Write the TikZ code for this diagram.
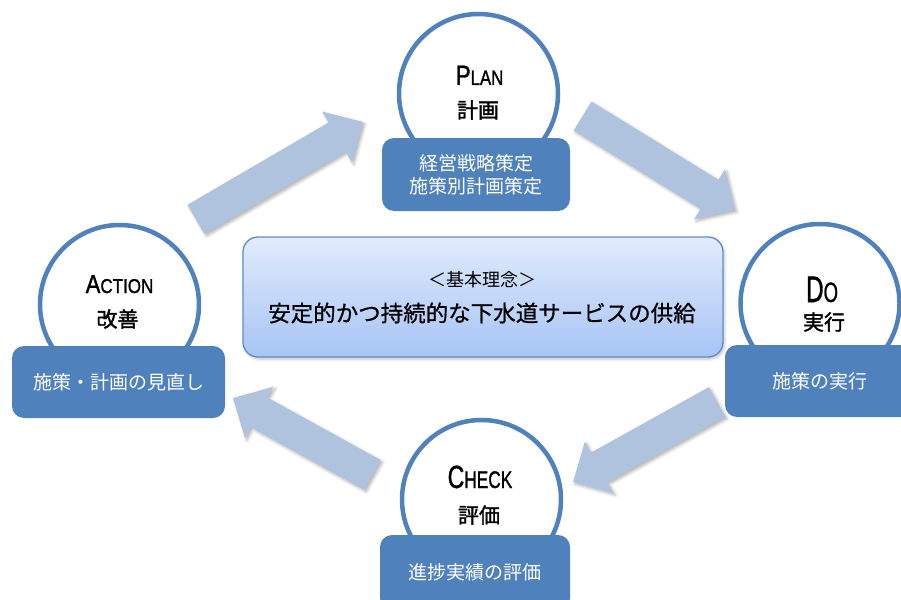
\documentclass[tikz,border=0pt]{standalone}
\usepackage{fontspec}
\usepackage{graphicx}
\setmainfont{Liberation Sans}
\newfontfamily\jp{Noto Sans CJK JP}
\newfontfamily\jpm[FakeBold=1.6]{Noto Sans CJK JP}
\newfontfamily\jpl[FakeBold=0.7]{Noto Sans CJK JP}
\newfontfamily\latb[FakeBold=1.4]{Liberation Sans}
\usetikzlibrary{calc,shadows.blur}

\definecolor{boxblue}{RGB}{79,129,189}
\definecolor{arrowblue}{RGB}{176,195,222}
\definecolor{ctop}{RGB}{226,235,252}
\definecolor{cbot}{RGB}{166,196,245}
\definecolor{cborder}{RGB}{95,140,200}

\newcommand\myblockarrow[2]{%
  \coordinate (hb) at ($(#2)!30pt!(#1)$);
  \fill[blockarr] ($(#1)!17pt!90:(#2)$) -- ($(hb)!17pt!90:(#2)$) -- ($(hb)!29.5pt!90:(#2)$) -- (#2)
     -- ($(hb)!29.5pt!-90:(#2)$) -- ($(hb)!17pt!-90:(#2)$) -- ($(#1)!17pt!-90:(#2)$) -- cycle;}

\begin{document}
\begin{tikzpicture}[x=1pt,y=-1pt,
  blockarr/.style={fill=arrowblue, blur shadow={shadow xshift=2pt, shadow yshift=-2pt, shadow opacity=30, shadow blur radius=3pt}},
  ring/.style={circle, draw=boxblue, line width=4.5pt, fill=white, minimum size=159pt, inner sep=0pt},
  bluebox/.style={rectangle, rounded corners=12pt, fill=boxblue, text=white, font=\jp\fontsize{19}{23}\selectfont, inner sep=0pt, align=center},
  ttl/.style={text=black, inner sep=0pt, anchor=base, font=\latb},
  sub/.style={text=black, inner sep=0pt, font=\jpm\fontsize{21}{21}\selectfont},
  core/.style={rectangle, rounded corners=15pt, draw=cborder, line width=1.3pt, top color=ctop, bottom color=cbot, minimum width=480pt, minimum height=120pt, blur shadow={shadow xshift=1.5pt, shadow yshift=-2pt, shadow opacity=25, shadow blur radius=3pt}}
]
\useasboundingbox (0,0) rectangle (901,599);

% arrows
\coordinate (a1t) at (196,219.5); \coordinate (a1h) at (363,122);
\coordinate (a2t) at (582.5,116); \coordinate (a2h) at (735,210);
\coordinate (a3t) at (717,402);   \coordinate (a3h) at (573,482);
\coordinate (a4t) at (372.5,475); \coordinate (a4h) at (233,398);
\myblockarrow{a1t}{a1h}
\myblockarrow{a2t}{a2h}
\myblockarrow{a3t}{a3h}
\myblockarrow{a4t}{a4h}

% central box
\node[core] (core) at (483,297) {};
\node[inner sep=0pt, font=\jp\fontsize{18}{18}\selectfont] (coret) at (482,280) {＜基本理念＞};
\node[inner sep=0pt, font=\jpl\fontsize{22.5}{22.5}\selectfont] (corem) at (482,313) {安定的かつ持続的な下水道サービスの供給};

% circles
\node[ring] (plan) at (478.5,93.5) {};
\node[ring] (action) at (119.5,304.5) {};
\node[ring] (do) at (820,303.5) {};
\node[ring] (check) at (481.5,499.5) {};

% boxes
\node[bluebox, minimum width=188pt, minimum height=73pt] (planbox) at (476,174.5) {経営戦略策定\\施策別計画策定};
\node[bluebox, minimum width=213pt, minimum height=72pt] (actionbox) at (118.5,382) {施策・計画の見直し};
\node[bluebox, minimum width=190pt, minimum height=72pt] (dobox) at (820,381) {施策の実行};
\node[bluebox, minimum width=190pt, minimum height=75pt] (checkbox) at (475,572.5) {進捗実績の評価};

% titles
\node[ttl] (plant) at (479.5,85) {\scalebox{0.8}[1]{\fontsize{28}{28}\selectfont P\fontsize{21}{21}\selectfont LAN}};
\node[sub] (plans) at (478,110) {計画};
\node[ttl] (actiont) at (119.5,293) {\scalebox{0.85}[1]{\fontsize{26}{26}\selectfont A\fontsize{20}{20}\selectfont CTION}};
\node[sub] (actions) at (117.5,319) {改善};
\node[ttl] (dot) at (822,302) {\scalebox{0.66}[1]{\fontsize{37}{37}\selectfont D\fontsize{28}{28}\selectfont O}};
\node[sub] (dos) at (824,322) {実行};
\node[ttl] (checkt) at (480,488) {\scalebox{0.72}[1]{\fontsize{32}{32}\selectfont C\fontsize{24}{24}\selectfont HECK}};
\node[sub] (checks) at (479,515) {評価};
\end{tikzpicture}
\end{document}
